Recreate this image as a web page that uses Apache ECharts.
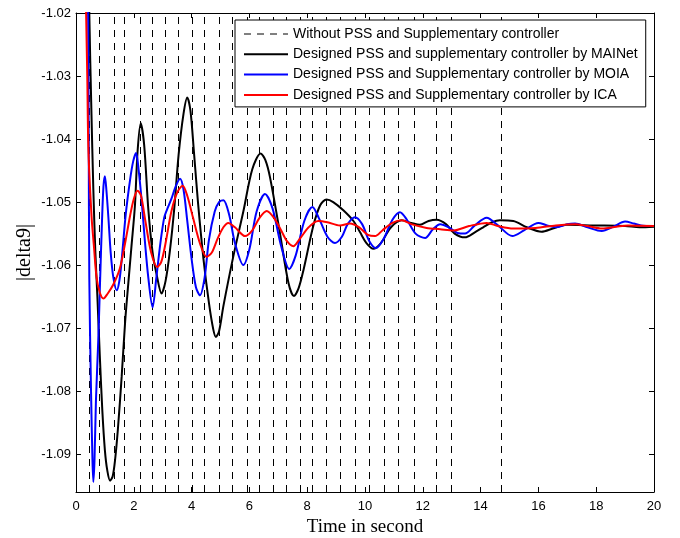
<!DOCTYPE html>
<html>
<head>
<meta charset="utf-8">
<script src="https://cdn.jsdelivr.net/npm/echarts@6/dist/echarts.min.js"></script>
<style>html,body{margin:0;padding:0;background:#fff}#c{width:680px;height:538px}</style>
</head>
<body>
<div id="c"></div>
<script>
// ---- data ----
const seriesNames = [
  'Without PSS and Supplementary controller',
  'Designed PSS and supplementary controller by MAINet',
  'Designed PSS and Supplementary controller by MOIA',
  'Designed PSS and Supplementary controller by ICA'
];
const xTicks = [0, 2, 4, 6, 8, 10, 12, 14, 16, 18, 20];
const yTicks = [-1.09, -1.08, -1.07, -1.06, -1.05, -1.04, -1.03, -1.02];

// "Without PSS" signal: swings far off-scale; only its crossings (seconds) are visible
const withoutPssCrossings = [0.46, 0.80, 1.31, 1.67, 2.21, 2.64, 3.10, 3.54, 4.02, 4.45, 4.95, 5.41,
  5.91, 6.33, 6.83, 7.26, 7.75, 8.19, 8.67, 9.13, 9.65, 10.15, 10.65, 11.15, 11.69, 12.45, 12.97, 14.71];

const mainet = [[0.42,-1.005],[0.46,-1.02],[0.53,-1.035],[0.60,-1.048],[0.67,-1.058],[0.74,-1.065],
  [0.82,-1.074],[0.91,-1.083],[1.0,-1.0894],[1.08,-1.0925],[1.18,-1.0942],[1.27,-1.0935],[1.35,-1.091],
  [1.45,-1.086],[1.58,-1.0777],[1.70,-1.069],[1.81,-1.0629],[1.92,-1.057],[2.04,-1.0505],[2.13,-1.042],
  [2.24,-1.0375],[2.36,-1.041],[2.50,-1.051],[2.65,-1.058],[2.79,-1.0615],[2.96,-1.0645],[3.1,-1.0625],
  [3.25,-1.0577],[3.40,-1.051],[3.55,-1.0425],[3.72,-1.036],[3.85,-1.0334],[3.96,-1.0355],[4.08,-1.042],
  [4.22,-1.050],[4.41,-1.059],[4.6,-1.066],[4.75,-1.0702],[4.84,-1.0714],[4.95,-1.0705],[5.1,-1.0665],
  [5.44,-1.0587],[5.79,-1.0515],[6.10,-1.0448],[6.39,-1.0423],[6.55,-1.0433],[6.71,-1.046],[7.06,-1.055],
  [7.35,-1.0628],[7.54,-1.0649],[7.7,-1.0637],[7.87,-1.0608],[8.21,-1.0538],[8.45,-1.0505],[8.67,-1.0496],
  [8.9,-1.0500],[9.25,-1.0513],[9.6,-1.053],[9.83,-1.0548],[10.05,-1.0565],[10.29,-1.0574],[10.55,-1.0565],
  [10.9,-1.0540],[11.27,-1.0529],[11.6,-1.0533],[11.9,-1.0536],[12.2,-1.0530],[12.48,-1.0528],[12.8,-1.0535],
  [13.1,-1.0550],[13.46,-1.0556],[13.8,-1.0548],[14.09,-1.0540],[14.4,-1.0532],[14.67,-1.0529],[15.13,-1.0530],
  [15.6,-1.0540],[16.11,-1.0547],[16.5,-1.0542],[16.98,-1.0536],[17.9,-1.0537],[19.0,-1.0538],[19.5,-1.0540],[20,-1.0539]];

const moia = [[0.39,-1.005],[0.42,-1.02],[0.44,-1.04],[0.46,-1.062],[0.52,-1.080],[0.57,-1.091],[0.60,-1.0944],
  [0.64,-1.091],[0.69,-1.0815],[0.77,-1.072],[0.83,-1.063],[0.90,-1.053],[0.95,-1.0475],[1.0,-1.0459],
  [1.05,-1.048],[1.12,-1.0524],[1.20,-1.058],[1.29,-1.0619],[1.41,-1.064],[1.50,-1.0625],[1.58,-1.0592],
  [1.72,-1.052],[1.87,-1.0465],[1.98,-1.0435],[2.08,-1.0422],[2.17,-1.045],[2.27,-1.0497],[2.38,-1.056],
  [2.50,-1.0619],[2.65,-1.0667],[2.78,-1.062],[2.92,-1.0565],[3.05,-1.0525],[3.14,-1.0513],[3.3,-1.0495],
  [3.45,-1.0475],[3.6,-1.0463],[3.72,-1.048],[3.85,-1.053],[4.0,-1.059],[4.15,-1.0635],[4.29,-1.0648],
  [4.45,-1.062],[4.6,-1.056],[4.8,-1.0515],[4.95,-1.0500],[5.1,-1.0497],[5.3,-1.052],[5.5,-1.0565],
  [5.79,-1.060],[6.0,-1.0575],[6.25,-1.0515],[6.54,-1.0487],[6.8,-1.051],[7.1,-1.057],[7.38,-1.0606],
  [7.6,-1.0585],[7.9,-1.053],[8.18,-1.0508],[8.4,-1.0525],[8.7,-1.0555],[8.96,-1.0565],[9.2,-1.0555],
  [9.4,-1.0535],[9.65,-1.0524],[9.9,-1.0535],[10.15,-1.0562],[10.38,-1.0573],[10.65,-1.0558],[10.95,-1.0528],
  [11.21,-1.0516],[11.45,-1.0528],[11.75,-1.0550],[12.08,-1.0557],[12.35,-1.0543],[12.6,-1.0535],[12.9,-1.0540],
  [13.2,-1.0549],[13.46,-1.0550],[13.8,-1.0537],[14.21,-1.0525],[14.6,-1.0537],[15.1,-1.0554],[15.5,-1.0545],
  [16.0,-1.0533],[16.3,-1.0537],[16.63,-1.0540],[17.0,-1.0535],[17.27,-1.0534],[17.7,-1.0540],[18.19,-1.0546],
  [18.6,-1.0539],[19.0,-1.0531],[19.3,-1.0534],[19.55,-1.0537],[20,-1.0538]];

const ica = [[0.31,-1.005],[0.35,-1.02],[0.39,-1.03],[0.43,-1.0418],[0.54,-1.0524],[0.62,-1.057],
  [0.71,-1.0619],[0.82,-1.0643],[0.95,-1.0653],[1.1,-1.0645],[1.3,-1.063],[1.52,-1.0605],[1.7,-1.0565],
  [1.87,-1.0522],[2.0,-1.0495],[2.13,-1.0482],[2.25,-1.049],[2.4,-1.053],[2.6,-1.058],[2.81,-1.0603],
  [2.95,-1.0595],[3.1,-1.0565],[3.3,-1.0515],[3.5,-1.0485],[3.69,-1.0474],[3.85,-1.049],[4.05,-1.0525],
  [4.3,-1.0567],[4.52,-1.0587],[4.7,-1.058],[4.9,-1.0558],[5.1,-1.054],[5.27,-1.0533],[5.5,-1.054],
  [5.85,-1.0554],[6.1,-1.0545],[6.35,-1.0525],[6.6,-1.0514],[6.85,-1.0525],[7.1,-1.0545],[7.3,-1.0562],
  [7.52,-1.057],[7.75,-1.0558],[8.05,-1.054],[8.38,-1.053],[8.7,-1.0532],[9.13,-1.0537],[9.48,-1.0534],
  [9.8,-1.054],[10.1,-1.0552],[10.35,-1.0554],[10.6,-1.0545],[10.95,-1.0533],[11.27,-1.0529],[11.6,-1.0535],
  [12.13,-1.0541],[12.6,-1.0543],[13.06,-1.0545],[13.6,-1.0538],[14.21,-1.0533],[14.6,-1.0538],[15.13,-1.0542],
  [15.9,-1.0541],[16.6,-1.0537],[17.27,-1.0535],[17.7,-1.0538],[18.2,-1.0542],[18.7,-1.0539],[19.1,-1.0537],[20,-1.0538]];

// ---- chart ----
const X_MIN = 0, X_MAX = 20, Y_MIN = -1.096, Y_MAX = -1.02;
const sans = 'Liberation Sans, Arial, Helvetica, sans-serif';
const serif = 'Liberation Serif, Times New Roman, serif';

const chart = echarts.init(document.getElementById('c'), null, {renderer: 'canvas'});

const baseAxisLine = {show: true, onZero: false, lineStyle: {color: '#000', width: 1}};

const option = {
  animation: false,
  backgroundColor: '#fff',
  grid: {left: 76, right: 26, top: 13, bottom: 46, containLabel: false, outerBoundsMode: 'none'},
  legend: {
    orient: 'vertical',
    left: 235, top: 20,
    z: 20,
    data: [
      {name: seriesNames[0], lineStyle: {width: 1}},
      {name: seriesNames[1]},
      {name: seriesNames[2]},
      {name: seriesNames[3]}
    ],
    backgroundColor: '#fff',
    borderColor: '#000',
    borderWidth: 1,
    padding: [7, 8, 5, 8],
    itemGap: 6.3,
    itemWidth: 44,
    itemHeight: 14,
    itemStyle: {opacity: 0},
    textStyle: {fontFamily: sans, fontSize: 14, color: '#000'}
  },
  xAxis: [{
    type: 'value', min: X_MIN, max: X_MAX, position: 'bottom',
    axisLine: baseAxisLine,
    axisTick: {show: true, inside: true, length: 5, customValues: xTicks, lineStyle: {color: '#000'}},
    axisLabel: {show: true, customValues: xTicks, margin: 8, fontFamily: sans, fontSize: 13, color: '#000'},
    splitLine: {show: false},
    name: 'Time in second', nameLocation: 'middle', nameGap: 26, nameMoveOverlap: false,
    nameTextStyle: {fontFamily: serif, fontSize: 19, color: '#000'}
  }, {
    type: 'value', min: X_MIN, max: X_MAX, position: 'top',
    axisLine: baseAxisLine,
    axisTick: {show: true, inside: true, length: 5, customValues: xTicks, lineStyle: {color: '#000'}},
    axisLabel: {show: false},
    splitLine: {show: false}
  }],
  yAxis: [{
    type: 'value', min: Y_MIN, max: Y_MAX, position: 'left',
    axisLine: baseAxisLine,
    axisTick: {show: true, inside: true, length: 5, customValues: yTicks, lineStyle: {color: '#000'}},
    axisLabel: {show: true, customValues: yTicks, margin: 5, fontFamily: sans, fontSize: 13, color: '#000',
      formatter: v => v.toFixed(2)},
    splitLine: {show: false},
    name: '|delta9|', nameLocation: 'middle', nameGap: 41, nameMoveOverlap: false,
    nameTextStyle: {fontFamily: serif, fontSize: 20, color: '#000'}
  }, {
    type: 'value', min: Y_MIN, max: Y_MAX, position: 'right',
    axisLine: baseAxisLine,
    axisTick: {show: true, inside: true, length: 5, customValues: yTicks, lineStyle: {color: '#000'}},
    axisLabel: {show: false},
    splitLine: {show: false}
  }],
  series: [{
    name: seriesNames[0], type: 'line', data: [], symbol: 'none',
    lineStyle: {color: '#000', width: 1, type: [7, 6]},
    itemStyle: {color: '#000'},
    markLine: {
      silent: true, symbol: 'none', animation: false, z: 2,
      label: {show: false},
      lineStyle: {color: '#000', width: 1, type: [7, 6]},
      emphasis: {disabled: true},
      data: withoutPssCrossings.map(x => ({xAxis: x}))
    }
  }, {
    name: seriesNames[1], type: 'line', data: mainet, symbol: 'none', showSymbol: false,
    smooth: 0.3, clip: true,
    lineStyle: {color: '#000', width: 2}, itemStyle: {color: '#000'}
  }, {
    name: seriesNames[2], type: 'line', data: moia, symbol: 'none', showSymbol: false,
    smooth: 0.3, clip: true,
    lineStyle: {color: '#0000ff', width: 2}, itemStyle: {color: '#0000ff'}
  }, {
    name: seriesNames[3], type: 'line', data: ica, symbol: 'none', showSymbol: false,
    smooth: 0.3, clip: true,
    lineStyle: {color: '#ff0000', width: 2}, itemStyle: {color: '#ff0000'}
  }]
};
chart.setOption(option);
</script>
</body>
</html>
